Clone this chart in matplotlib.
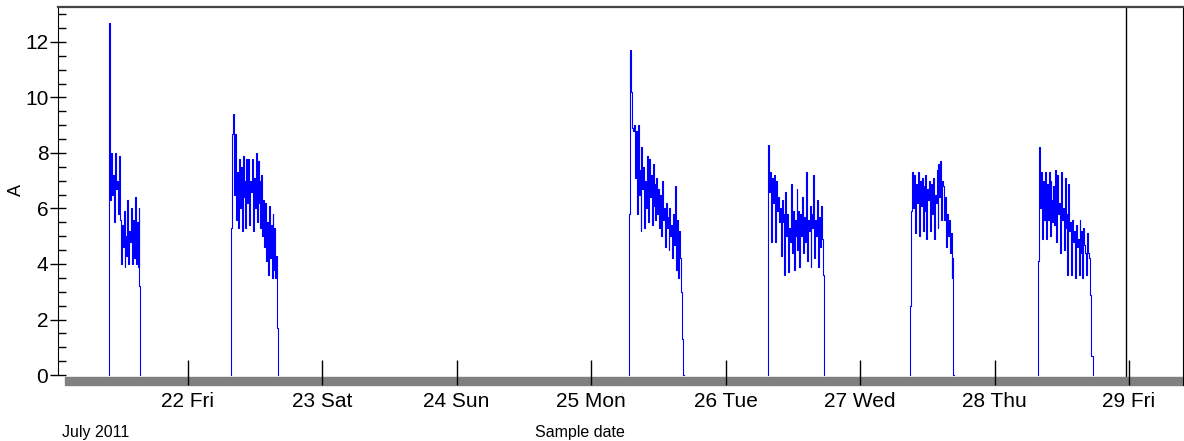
import matplotlib
matplotlib.use('Agg')
import matplotlib.pyplot as plt
import matplotlib.dates as mdates
from matplotlib.patches import Rectangle
from matplotlib.ticker import MultipleLocator
import numpy as np
import pandas as pd

# current (A), one reading every 10 minutes, for each working day
start_jul21 = '2011-07-21 09:55'
amps_jul21 = [12.7, 7.0, 6.3, 8.0, 6.5, 7.2, 5.5, 8.0, 6.7, 7.0, 5.8, 7.9, 5.6, 4.0, 5.4, 4.6,
              5.9, 3.9, 5.0, 4.3, 6.3, 4.0, 5.2, 4.8, 6.0, 4.0, 5.6, 4.2, 6.4, 4.0, 5.5, 3.9,
              6.0, 3.2]

start_jul22 = '2011-07-22 07:40'
amps_jul22 = [0.9, 5.3, 8.7, 9.4, 6.5, 8.7, 5.6, 7.3, 5.3, 7.8, 6.0, 7.5, 5.2, 7.9, 6.4, 7.0,
              5.3, 7.8, 6.2, 7.8, 5.4, 7.0, 6.6, 7.8, 5.2, 7.1, 6.0, 8.0, 5.5, 7.7, 6.2, 7.0,
              5.3, 7.2, 5.0, 6.3, 4.6, 6.2, 4.1, 5.5, 3.6, 6.1, 4.2, 5.4, 3.5, 5.8, 3.8, 5.3,
              3.5, 4.3, 1.7]

start_jul25 = '2011-07-25 06:50'
amps_jul25 = [5.8, 11.7, 10.2, 8.9, 8.8, 9.0, 7.1, 8.8, 5.8, 9.0, 6.5, 7.4, 5.2, 8.2, 6.7, 7.5,
              5.3, 7.0, 6.0, 7.9, 5.5, 7.8, 6.4, 7.2, 5.4, 7.6, 6.1, 6.9, 5.6, 7.1, 5.8, 6.7,
              5.3, 6.5, 5.0, 7.0, 5.6, 6.0, 4.6, 6.2, 5.3, 5.7, 4.5, 6.0, 5.0, 5.4, 4.2, 5.8,
              4.7, 6.8, 3.8, 5.6, 3.5, 5.2, 4.2, 3.0, 1.3, 1.2]

start_jul26 = '2011-07-26 07:30'
amps_jul26 = [4.1, 8.3, 6.6, 7.3, 4.8, 7.1, 6.2, 7.2, 4.8, 7.0, 5.9, 6.4, 5.5, 6.0, 4.3, 6.3,
              5.5, 5.8, 3.6, 6.6, 5.0, 5.8, 3.7, 5.3, 4.8, 6.9, 4.4, 5.9, 3.8, 5.6, 5.0, 6.7,
              4.5, 5.9, 3.9, 5.8, 5.0, 6.4, 4.4, 5.7, 4.8, 7.3, 4.1, 5.6, 5.2, 6.1, 3.9, 5.8,
              5.3, 7.2, 4.2, 5.6, 5.0, 6.3, 3.9, 5.7, 4.6, 6.1, 4.9, 3.6]

start_jul27 = '2011-07-27 09:00'
amps_jul27 = [2.5, 5.9, 7.3, 6.0, 7.2, 5.1, 6.9, 6.2, 7.3, 5.0, 7.0, 6.1, 7.1, 5.2, 6.8, 5.9,
              7.2, 4.9, 6.7, 6.3, 7.0, 5.2, 6.9, 5.8, 7.1, 4.9, 6.5, 6.2, 7.4, 5.3, 7.6, 6.4,
              7.7, 5.6, 7.0, 6.8, 5.6, 6.4, 4.6, 5.8, 5.0, 5.6, 4.4, 5.1, 3.5, 4.2]

start_jul28 = '2011-07-28 07:50'
amps_jul28 = [4.1, 8.2, 6.0, 7.3, 4.9, 7.0, 5.6, 7.3, 4.9, 6.9, 5.6, 7.3, 5.0, 7.0, 6.3, 5.5,
              6.8, 5.4, 7.4, 4.8, 7.2, 5.8, 6.2, 4.4, 7.3, 5.6, 6.0, 4.5, 7.1, 5.3, 5.8, 3.6,
              6.9, 5.2, 5.5, 3.6, 5.6, 4.8, 5.2, 3.5, 5.4, 4.6, 4.9, 3.6, 5.6, 4.4, 5.2, 3.5,
              5.3, 4.7, 4.4, 3.6, 5.1, 4.4, 4.2, 2.9, 0.7, 0.7]

now_marker = '2011-07-28 23:28'
x_start = '2011-07-21 00:53'
x_end = '2011-07-29 09:38'

blocks = [(start_jul21, amps_jul21), (start_jul22, amps_jul22), (start_jul25, amps_jul25),
          (start_jul26, amps_jul26), (start_jul27, amps_jul27), (start_jul28, amps_jul28)]

times = []
values = []
step = pd.Timedelta('10min')
for start, amps in blocks:
    t = pd.date_range(start, periods=len(amps), freq='10min')
    times += [t[0]] + list(t) + [t[-1] + step, t[-1] + step + pd.Timedelta('1min')]
    values += [0] + amps + [0, np.nan]

narrow = ['Liberation Sans Narrow', 'Liberation Sans']
plain = ['Liberation Sans', 'DejaVu Sans']

fig = plt.figure(figsize=(11.84, 4.41), dpi=100)
W, H = 1184, 441
ax = fig.add_axes([58 / W, (H - 385) / H, (1183 - 58) / W, (385 - 7) / H])

ax.plot(times, values, color='#0000ff', lw=0.8, drawstyle='steps-post', zorder=2)
ax.axvline(pd.Timestamp(now_marker), color='black', lw=1, zorder=2)

ax.set_xlim(pd.Timestamp(x_start), pd.Timestamp(x_end))
ax.set_ylim(-0.36, 13.26)

ax.spines['bottom'].set_visible(False)
ax.spines['top'].set_color('#444444')
ax.spines['top'].set_linewidth(1.6)
ax.spines['left'].set_bounds(0, 13.26)

# grey bar along the bottom
bar = Rectangle(((65 - 58) / (1183 - 58), 0), 1 - (65 - 58) / (1183 - 58), 8 / 378,
                transform=ax.transAxes, color='#808080', clip_on=False, zorder=2.5)
ax.add_patch(bar)
ax.xaxis.set_zorder(3)

ax.xaxis.set_major_locator(mdates.DayLocator())
ax.xaxis.set_major_formatter(mdates.DateFormatter('%d %a'))
ax.tick_params(axis='x', direction='in', length=18, width=1, pad=5, labelsize=15)

ax.yaxis.set_major_locator(MultipleLocator(2))
ax.yaxis.set_minor_locator(MultipleLocator(0.5))
ax.tick_params(axis='y', which='major', direction='inout', length=12, width=1, pad=1, labelsize=15)
ax.tick_params(axis='y', which='minor', direction='in', length=6, width=1)

for lab in ax.get_xticklabels() + ax.get_yticklabels():
    lab.set_family(narrow)

fig.text(16 / W, 1 - 190 / H, 'A', rotation=90, ha='center', va='center', fontsize=13, family=plain)
fig.text(62 / W, 1 - 432 / H, 'July 2011', ha='left', va='center', fontsize=11.5, family=plain)
fig.text(580 / W, 1 - 432 / H, 'Sample date', ha='center', va='center', fontsize=11.5, family=plain)

fig.savefig('out.png', dpi=100)
